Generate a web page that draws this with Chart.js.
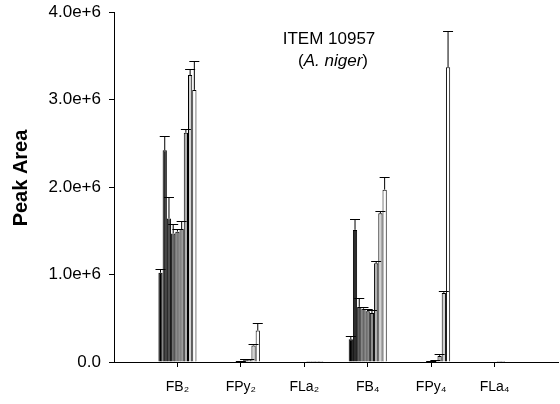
<!DOCTYPE html>
<html>
<head>
<meta charset="utf-8">
<script src="https://cdn.jsdelivr.net/npm/chart.js@4.4.1/dist/chart.umd.min.js"></script>
<style>
  html, body { margin: 0; padding: 0; background: #fff; }
  #wrap { width: 560px; height: 404px; }
</style>
</head>
<body>
<div id="wrap"><canvas id="c" width="560" height="404"></canvas></div>
<script>
// Fumonisin analogues measured for ITEM 10957 (A. niger)
const categories = ['FB₂', 'FPy₂', 'FLa₂', 'FB₄', 'FPy₄', 'FLa₄'];

// Peak areas, one array per bar position within each group
const bar1 = [1.02e6, 0, 0, 0.26e6, 0, 0];
const bar2 = [2.42e6, 0, 0, 1.51e6, 0, 0];
const bar3 = [1.64e6, 0, 0, 0.63e6, 0, 0];
const bar4 = [1.47e6, 0, 0, 0.61e6, 0, 0];
const bar5 = [1.49e6, 0.004e6, 0, 0.58e6, 0.004e6, 0];
const bar6 = [1.52e6, 0.02e6, 0.012e6, 0.56e6, 0.012e6, 0.012e6];
const bar7 = [2.62e6, 0.03e6, 0.012e6, 1.13e6, 0.07e6, 0.012e6];
const bar8 = [3.28e6, 0.19e6, 0.012e6, 1.70e6, 0.79e6, 0];
const bar9 = [3.11e6, 0.36e6, 0.012e6, 1.97e6, 3.37e6, 0];

// Standard deviations (upper error bars)
const sd1 = [0.04e6, 0, 0, 0.04e6, 0, 0];
const sd2 = [0.16e6, 0, 0, 0.12e6, 0, 0];
const sd3 = [0.25e6, 0, 0, 0.10e6, 0, 0];
const sd4 = [0.11e6, 0, 0, 0.02e6, 0, 0];
const sd5 = [0.03e6, 0.004e6, 0, 0.03e6, 0.006e6, 0];
const sd6 = [0.09e6, 0.01e6, 0, 0.03e6, 0.01e6, 0];
const sd7 = [0.04e6, 0.01e6, 0, 0.03e6, 0.025e6, 0];
const sd8 = [0.07e6, 0.02e6, 0, 0.03e6, 0.02e6, 0];
const sd9 = [0.33e6, 0.09e6, 0, 0.15e6, 0.41e6, 0];

const yTicks = [0, 1e6, 2e6, 3e6, 4e6];

const series = [bar1, bar2, bar3, bar4, bar5, bar6, bar7, bar8, bar9];
const errors = [sd1, sd2, sd3, sd4, sd5, sd6, sd7, sd8, sd9];
const fills = ['#000000', '#2e2e2e', '#4f4f4f', '#666666', '#7a7a7a', '#8e8e8e',
               '#b0b0b0', '#d2d2d2', '#ffffff'];

const FONT = '"Liberation Sans", Arial, sans-serif';
// blank slots at both ends leave one empty step between the axes and the outer groups
const labels = ['', ...categories, ''];

const datasets = series.map((vals, i) => ({
  data: [null, ...vals, null],
  sd: errors[i],
  backgroundColor: fills[i],
  borderColor: '#000',
  borderWidth: 1,
  borderSkipped: 'bottom',
  barPercentage: 1,
  categoryPercentage: 0.6
}));

const errorBars = {
  id: 'errorBars',
  afterDatasetsDraw(chart) {
    const ctx = chart.ctx;
    const ys = chart.scales.y;
    ctx.save();
    ctx.strokeStyle = '#000';
    ctx.lineWidth = 1;
    chart.data.datasets.forEach((ds, i) => {
      const meta = chart.getDatasetMeta(i);
      ds.sd.forEach((s, j) => {
        if (!s) return;
        const el = meta.data[j + 1];
        const v = ds.data[j + 1];
        const x = el.x;
        const y0 = ys.getPixelForValue(v);
        const y1 = Math.round(ys.getPixelForValue(v + s)) + 0.5;
        ctx.beginPath();
        ctx.moveTo(x, y0);
        ctx.lineTo(x, y1);
        ctx.moveTo(x - 5, y1);
        ctx.lineTo(x + 5, y1);
        ctx.stroke();
      });
    });
    ctx.restore();
  }
};

const caption = {
  id: 'caption',
  afterDraw(chart) {
    const ctx = chart.ctx;
    ctx.save();
    ctx.fillStyle = '#000';
    ctx.textBaseline = 'middle';
    ctx.textAlign = 'center';
    ctx.font = '17px ' + FONT;
    ctx.fillText('ITEM 10957', 329, 39);
    // second line: species name in italics inside plain parentheses
    const parts = [['(', '17px '], ['A. niger', 'italic 17px '], [')', '17px ']];
    let total = 0;
    parts.forEach(p => { ctx.font = p[1] + FONT; total += ctx.measureText(p[0]).width; });
    let x = 333 - total / 2;
    ctx.textAlign = 'left';
    parts.forEach(p => {
      ctx.font = p[1] + FONT;
      ctx.fillText(p[0], x, 61);
      x += ctx.measureText(p[0]).width;
    });
    // vertical axis title
    ctx.translate(21, 178);
    ctx.rotate(-Math.PI / 2);
    ctx.textAlign = 'center';
    ctx.font = 'bold 20px ' + FONT;
    ctx.fillText('Peak Area', 0, 0);
    ctx.restore();
  }
};

new Chart(document.getElementById('c'), {
  type: 'bar',
  data: { labels, datasets },
  plugins: [errorBars, caption],
  options: {
    responsive: false,
    devicePixelRatio: 1,
    animation: false,
    layout: { padding: { top: 12, right: 2, left: 0, bottom: 0 } },
    plugins: { legend: { display: false }, tooltip: { enabled: false } },
    scales: {
      x: {
        type: 'category',
        offset: false,
        grid: {
          offset: false,
          drawOnChartArea: false,
          drawTicks: true,
          tickLength: 5,
          color: c => (c.index === 0 || c.index === labels.length - 1) ? 'rgba(0,0,0,0)' : '#000'
        },
        border: { display: true, color: '#000', width: 1 },
        ticks: {
          color: '#000',
          font: { family: FONT, size: 14 },
          padding: 12,
          maxRotation: 0,
          autoSkip: false
        },
        afterFit: s => { s.height = 42; s.paddingLeft = 0; s.paddingRight = 0; }
      },
      y: {
        min: 0,
        max: 4e6,
        afterBuildTicks: s => { s.ticks = yTicks.map(v => ({ value: v })); },
        grid: { drawOnChartArea: false, drawTicks: true, tickLength: 5, color: '#000' },
        border: { display: true, color: '#000', width: 1 },
        ticks: {
          color: '#000',
          font: { family: FONT, size: 17 },
          padding: 8,
          callback: v => v === 0 ? '0.0' : (v / 1e6).toFixed(1) + 'e+6'
        },
        afterFit: s => { s.width = 114; s.paddingTop = 0; s.paddingBottom = 0; }
      }
    }
  }
});
</script>
</body>
</html>
